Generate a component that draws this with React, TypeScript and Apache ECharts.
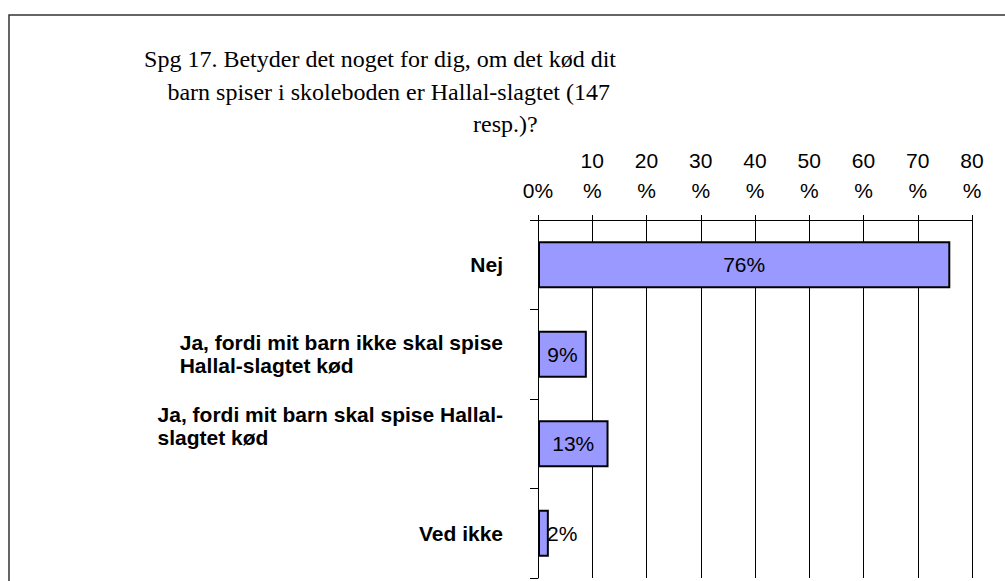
import React, { useEffect, useRef } from "react";
import * as echarts from "echarts";

const titleLines = [
  "Spg 17. Betyder det noget for dig, om det kød dit",
  "barn spiser i skoleboden er Hallal-slagtet (147",
  "resp.)?",
];
const categories = [
  "Nej",
  "Ja, fordi mit barn ikke skal spise\nHallal-slagtet kød",
  "Ja, fordi mit barn skal spise Hallal-\nslagtet kød",
  "Ved ikke",
];
const values = [76, 9, 13, 2];
const axisMin = 0;
const axisMax = 80;
const axisStep = 10;

export default function App() {
  const ref = useRef<HTMLDivElement>(null);
  useEffect(() => {
    if (!ref.current) return;
    const chart = echarts.init(ref.current, null, { renderer: "svg" });
    const serif = "'Liberation Serif', 'Times New Roman', serif";
    const sans = "'Liberation Sans', Arial, Helvetica, sans-serif";
    chart.setOption({
      animation: false,
      backgroundColor: "#fff",
      title: [
        { text: titleLines[0], right: 389, top: 47 },
        { text: titleLines[1], right: 395, top: 80 },
        { text: titleLines[2], left: 473, top: 112 },
      ].map((t) => ({
        ...t,
        padding: 0,
        textStyle: { fontFamily: serif, fontSize: 24, fontWeight: "normal", color: "#000" },
      })),
      graphic: [
        {
          type: "rect",
          silent: true,
          z: 100,
          shape: { x: 9, y: 15, width: 1100, height: 700 },
          style: { fill: "none", stroke: "#333", lineWidth: 1.5 },
        },
      ],
      grid: { left: 538, top: 220, width: 434, height: 358, containLabel: false },
      xAxis: {
        type: "value",
        position: "top",
        min: axisMin,
        max: axisMax,
        interval: axisStep,
        axisLine: { show: true, lineStyle: { color: "#000", width: 1 } },
        axisTick: { show: true, length: 5, lineStyle: { color: "#000" } },
        splitLine: { show: true, lineStyle: { color: "#000", width: 1 } },
        axisLabel: {
          margin: 15,
          fontFamily: sans,
          fontSize: 21,
          lineHeight: 30,
          color: "#000",
          formatter: (v: number) => (v === 0 ? "0%" : `${v}\n%`),
        },
      },
      yAxis: {
        type: "category",
        inverse: true,
        data: categories,
        axisLine: { show: true, lineStyle: { color: "#000", width: 1 } },
        axisTick: { show: true, length: 8, lineStyle: { color: "#000" } },
        splitLine: { show: false },
        axisLabel: {
          margin: 35,
          formatter: (value: string, index: number) => {
            let s = value
              .split("\n")
              .map((l) => `{l|${l}}`)
              .join("\n");
            if (index === 2) s += "\n{e| }";
            return s;
          },
          rich: {
            l: {
              fontFamily: sans,
              fontWeight: "bold",
              fontSize: 21,
              lineHeight: 23,
              align: "left",
              color: "#000",
            },
            e: { fontSize: 10, lineHeight: 35 },
          },
        },
      },
      series: [
        {
          type: "bar",
          barWidth: 47,
          data: values.map((v) =>
            v < 5
              ? { value: v, label: { position: "insideLeft", distance: 9 } }
              : v
          ),
          itemStyle: { color: "#9999FF", borderColor: "#000", borderWidth: 2 },
          label: {
            show: true,
            position: "inside",
            formatter: "{c}%",
            fontFamily: sans,
            fontSize: 21,
            color: "#000",
          },
        },
      ],
    });
    return () => chart.dispose();
  }, []);
  return (
    <div
      ref={ref}
      style={{ position: "fixed", left: 0, top: 0, width: 1005, height: 581, background: "#fff" }}
    />
  );
}
